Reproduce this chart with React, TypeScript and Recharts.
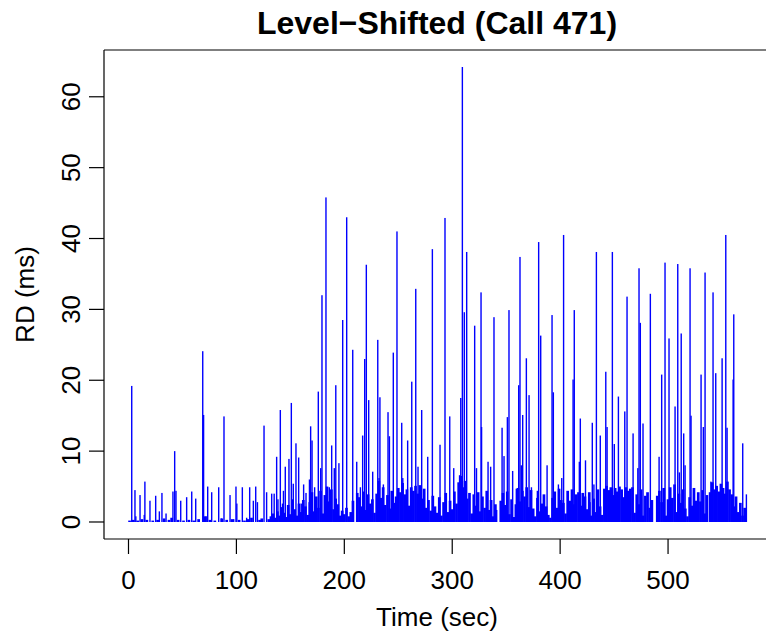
import React from 'react';
import { ComposedChart, Bar, XAxis, YAxis, ReferenceLine } from 'recharts';

// Tall spikes (time in sec, RD in ms)
const spikeTime = [
  3.0, 6.0, 6.8, 10.7, 14.6, 15.2, 19.9, 25.2, 28.6, 31.0,
  34.8, 41.2, 42.8, 44.0, 48.4, 53.9, 58.6, 62.3, 68.8, 69.6,
  72.0, 73.4, 77.1, 83.6, 86.0, 88.5, 94.1, 97.5, 99.6, 100.4,
  105.5, 109.5, 112.3, 115.7, 117.9, 119.5, 125.6, 128.0, 132.7, 135.0,
  137.3, 138.5, 140.7, 142.7, 143.6, 145.3, 148.7, 150.9, 152.7, 155.2,
  157.7, 160.1, 162.3, 164.5, 167.7, 168.8, 170.1, 172.5, 175.9, 178.1,
  179.3, 183.0, 186.1, 188.3, 190.7, 192.1, 195.0, 198.5, 202.2, 207.8,
  211.5, 214.9, 217.0, 218.9, 220.4, 222.6, 226.3, 231.0, 232.2, 233.0,
  236.2, 240.5, 241.8, 245.4, 248.8, 253.2, 254.2, 258.7, 262.5, 266.2,
  268.3, 271.7, 277.3, 281.6, 288.7, 293.3, 297.7, 301.4, 306.8, 307.9,
  309.4, 311.2, 313.4, 320.8, 322.5, 326.7, 327.2, 333.2, 335.6, 336.3,
  338.7, 341.2, 346.2, 348.0, 351.1, 352.6, 356.0, 359.4, 361.6, 362.8,
  364.0, 365.3, 368.7, 371.2, 373.4, 378.9, 380.1, 382.0, 387.9, 392.5,
  393.7, 398.4, 401.5, 403.2, 412.0, 413.1, 417.8, 418.7, 423.5, 427.7,
  429.8, 431.3, 433.6, 437.2, 442.3, 443.5, 448.4, 450.2, 454.0, 459.9,
  462.0, 467.6, 472.0, 473.1, 474.3, 476.8, 483.6, 491.7, 494.1, 497.2,
  500.9, 506.5, 509.0, 510.5, 512.2, 514.5, 515.8, 520.4, 521.3, 530.6,
  532.7, 534.3, 539.7, 541.7, 544.2, 550.1, 553.5, 554.7, 560.3, 560.9,
  569.2, 572.6,
];
const spikeRD = [
  19.2, 4.5, 0.8, 3.8, 1.0, 5.7, 3.0, 3.7, 1.5, 4.1,
  1.2, 4.3, 10.0, 4.4, 3.0, 3.5, 4.3, 3.3, 24.1, 15.1,
  0.8, 5.0, 4.2, 4.9, 0.5, 14.9, 3.8, 0.4, 5.0, 2.6,
  4.9, 0.6, 4.9, 3.0, 5.0, 2.8, 13.6, 4.2, 4.0, 4.0,
  9.2, 3.2, 15.8, 2.6, 4.4, 7.8, 8.9, 16.8, 5.4, 11.1,
  9.1, 2.6, 5.3, 4.1, 6.0, 13.5, 11.5, 4.9, 18.4, 7.6,
  32.0, 45.8, 4.9, 10.8, 7.6, 19.3, 8.3, 28.5, 43.0, 24.3,
  8.5, 4.9, 12.2, 23.0, 36.3, 17.2, 7.1, 25.7, 6.2, 17.6,
  5.3, 15.5, 12.1, 23.9, 41.0, 14.0, 6.2, 11.5, 19.8, 32.9,
  7.8, 15.8, 9.2, 38.5, 10.9, 42.9, 14.9, 7.6, 6.6, 17.5,
  64.2, 29.6, 38.1, 27.7, 7.6, 32.4, 13.4, 8.5, 7.8, 3.1,
  28.9, 1.7, 13.3, 9.3, 14.8, 29.9, 7.2, 4.7, 19.3, 37.4,
  8.0, 15.1, 23.1, 17.9, 4.9, 4.4, 39.5, 26.3, 8.0, 29.2,
  18.3, 5.3, 6.2, 40.5, 20.1, 29.9, 8.5, 14.6, 8.7, 2.8,
  14.0, 5.3, 38.1, 12.2, 21.2, 13.4, 38.1, 11.0, 17.7, 15.6,
  31.8, 12.5, 7.6, 35.8, 28.1, 13.9, 32.2, 9.2, 20.8, 36.6,
  25.9, 16.3, 36.4, 7.0, 26.6, 12.5, 8.0, 35.8, 15.0, 20.8,
  13.4, 35.2, 5.7, 32.4, 21.0, 23.1, 40.5, 13.3, 20.1, 29.3,
  11.1, 3.9,
];

// Low-level background readings (time in sec, RD in ms)
const floorTime = [
  1, 4.5, 8.5, 12.5, 17, 22.5, 27, 33, 37.5, 40,
  46, 51, 56, 60.5, 65, 71, 75.5, 80, 86.5, 91,
  96, 102.5, 107.5, 110.5, 114, 121.5, 123.5,
  130, 132, 134, 136, 138, 140, 142, 144, 146, 148,
  150, 152, 154, 156, 158, 160, 162, 164, 166, 168,
  170, 172, 174, 176, 178, 180, 182, 184, 186, 188,
  190, 192, 194, 196, 198, 200, 202, 204, 206, 208,
  212, 214, 216, 218, 220, 222, 224, 226, 228, 230,
  232, 234, 236, 238, 240, 242, 244, 246, 248, 250,
  252, 254, 256, 258, 260, 262, 264, 266, 268, 270,
  272, 274, 276, 278, 280, 282, 284, 286, 288, 290,
  292, 294, 296, 298, 300, 302, 304, 306, 308, 310,
  312, 314, 316, 318, 320, 322, 324, 326, 328, 330,
  332, 334, 336, 338, 340, 345, 347, 349, 351, 353,
  355, 357, 359, 361, 363, 365, 367, 369, 371, 373,
  375, 377, 379, 381, 383, 385, 387, 389, 391, 393,
  395, 397, 399, 401, 403, 405, 407, 409, 411, 413,
  415, 417, 419, 421, 423, 425, 427, 429, 431, 433,
  435, 437, 439, 441, 443, 445, 447, 449, 451, 453,
  455, 457, 459, 461, 463, 465, 467, 469, 471, 473,
  475, 477, 479, 481, 483, 485, 490, 492, 494, 496,
  498, 500, 502, 504, 506, 508, 510, 512, 514, 516,
  518, 520, 522, 524, 526, 528, 530, 532, 534, 536,
  539, 541, 543, 545, 547, 549, 551, 553, 555, 557,
  559, 561, 563, 565, 567, 569, 571,
];
const floorRD = [
  0.2, 0.3, 0.2, 0.4, 0.3, 0.2, 0.3, 0.5, 0.3, 0.6,
  0.3, 0.2, 0.3, 0.2, 0.4, 0.8, 0.3, 0.2, 0.5, 0.3,
  0.4, 0.3, 0.2, 0.4, 0.6, 0.3, 0.5,
  0.4, 0.8, 1.2, 0.6, 1.5, 0.9, 2.1, 1.3, 0.7, 2.4,
  1.1, 3.2, 1.8, 0.9, 2.6, 1.4, 3.1, 2.2, 1.0, 2.8,
  4.2, 1.5, 3.6, 2.0, 4.4, 1.2, 3.8, 5.0, 2.9, 4.6,
  1.8, 3.3, 2.5, 0.9, 1.6, 1.1, 2.0, 0.8, 1.4, 3.0,
  4.1, 3.5, 2.2, 4.3, 1.7, 3.9, 2.6, 3.2, 1.3, 4.0,
  5.8, 3.4, 4.9, 2.4, 3.8, 1.9, 4.4, 2.7, 3.6, 4.8,
  4.2, 5.5, 3.9, 4.6, 2.3, 4.9, 4.4, 5.1, 4.0, 5.2,
  3.3, 4.7, 2.0, 3.1, 1.6, 3.7, 2.2, 1.3, 3.5, 0.9,
  2.8, 4.1, 1.4, 3.0, 1.8, 4.3, 2.6, 5.6, 6.5, 4.9,
  5.8, 3.3, 4.1, 1.2, 3.9, 2.3, 4.2, 1.5, 3.6, 2.0,
  4.4, 1.7, 3.1, 0.8, 2.5, 3.0, 4.1, 2.4, 4.3, 1.1,
  3.2, 0.7, 2.5, 4.8, 2.9, 4.4, 3.6, 4.9, 2.1, 4.5,
  1.9, 0.8, 3.4, 1.5, 2.6, 3.9, 2.2, 1.0, 0.6, 3.4,
  4.3, 2.0, 4.7, 3.1, 2.7, 1.2, 4.4, 3.0, 4.6, 2.5,
  3.9, 4.2, 2.3, 4.1, 3.6, 1.8, 4.2, 0.9, 3.3, 1.4,
  4.6, 2.2, 1.0, 4.7, 5.1, 4.5, 4.9, 3.8, 4.8, 4.3,
  5.0, 4.6, 3.5, 4.9, 4.4, 4.7, 4.9, 1.3, 3.9, 2.5,
  4.6, 0.9, 3.7, 4.2, 2.0, 3.1, 3.7, 4.4, 2.8, 4.8,
  0.9, 3.2, 4.9, 3.4, 5.3, 1.4, 4.0, 2.7, 4.6, 1.9,
  0.8, 3.5, 2.3, 4.8, 3.0, 4.2, 2.9, 4.5, 1.2, 3.8,
  4.2, 5.6, 4.6, 5.1, 4.3, 5.4, 4.8, 4.0, 5.7, 4.6,
  3.9, 2.2, 3.6, 1.4, 2.7, 0.9, 2.0,
];

const xTicks = [0, 100, 200, 300, 400, 500];
const yTicks = [0, 10, 20, 30, 40, 50, 60];
const title = 'Level\u2212Shifted (Call 471)';
const xLabel = 'Time (sec)';
const yLabel = 'RD (ms)';

const data = [
  ...floorTime.map((t, i) => ({ t, rd: floorRD[i], kind: 'floor' })),
  ...spikeTime.map((t, i) => ({ t, rd: spikeRD[i], kind: 'spike' })),
];

const FONT = '"Liberation Sans", Arial, Helvetica, sans-serif';
const BLUE = '#0000FF';

const Stem = (p: any) => {
  const { x, width, y, height, payload } = p;
  if (x == null || y == null) return null;
  const cx = x + (width || 0) / 2;
  const w = payload && payload.kind === 'floor' ? 2.7 : 1.4;
  const base = y + height;
  const top = Math.min(y, base - 1);
  return <rect x={cx - w / 2} y={top} width={w} height={base - top} fill={BLUE} />;
};

const XTick = (p: any) => (
  <text x={p.x} y={589} textAnchor="middle" fontFamily={FONT} fontSize={26} fill="#000">
    {p.payload.value}
  </text>
);

const YTick = (p: any) => (
  <text
    transform={`translate(80, ${p.y}) rotate(-90)`}
    textAnchor="middle"
    fontFamily={FONT}
    fontSize={26}
    fill="#000"
  >
    {p.payload.value}
  </text>
);

export default function App() {
  return (
    <div
      style={{
        position: 'absolute',
        left: 0,
        top: 0,
        width: 766,
        height: 633,
        overflow: 'hidden',
        background: '#fff',
      }}
    >
      <ComposedChart
        width={772}
        height={633}
        data={data}
        margin={{ top: 50, right: 1, bottom: 64, left: 44 }}
      >
        <XAxis
          type="number"
          dataKey="t"
          domain={[-22.7, 595.4]}
          ticks={xTicks}
          allowDataOverflow
          interval={0}
          height={30}
          tickSize={15}
          axisLine={{ stroke: '#000', strokeWidth: 1.2 }}
          tickLine={{ stroke: '#000', strokeWidth: 1.2 }}
          tick={XTick}
        />
        <YAxis
          type="number"
          domain={[-2.4, 66.6]}
          ticks={yTicks}
          allowDataOverflow
          interval={0}
          width={60}
          tickSize={15}
          axisLine={{ stroke: '#000', strokeWidth: 1.2 }}
          tickLine={{ stroke: '#000', strokeWidth: 1.2 }}
          tick={YTick}
        />
        <ReferenceLine y={66.6} stroke="#000" strokeWidth={1.2} />
        <Bar dataKey="rd" isAnimationActive={false} barSize={1} shape={Stem} />
      </ComposedChart>
      <svg
        width={766}
        height={633}
        style={{ position: 'absolute', left: 0, top: 0, pointerEvents: 'none' }}
      >
        <text x={437} y={34} textAnchor="middle" fontFamily={FONT} fontSize={32} fontWeight="bold" fill="#000">
          {title}
        </text>
        <text x={437} y={626} textAnchor="middle" fontFamily={FONT} fontSize={26} fill="#000">
          {xLabel}
        </text>
        <text
          transform="translate(34, 294.5) rotate(-90)"
          textAnchor="middle"
          fontFamily={FONT}
          fontSize={26}
          fill="#000"
        >
          {yLabel}
        </text>
      </svg>
    </div>
  );
}
